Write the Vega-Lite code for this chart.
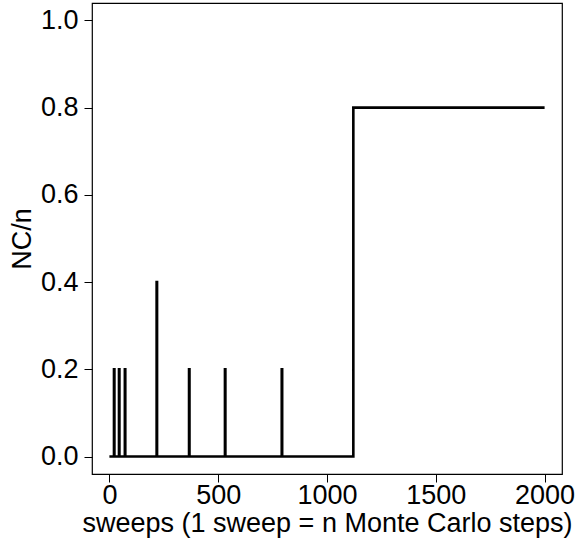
{
  "$schema": "https://vega.github.io/schema/vega-lite/v6.json",
  "width": 470,
  "height": 471,
  "autosize": {"type": "none"},
  "padding": {"left": 92, "top": 3, "right": 13, "bottom": 69},
  "background": "white",
  "config": {
    "view": {"stroke": "black", "strokeWidth": 1.2},
    "font": "Liberation Sans",
    "axis": {
      "domain": false,
      "grid": false,
      "tickColor": "black",
      "tickSize": 8,
      "tickWidth": 1,
      "labelFont": "Liberation Sans",
      "labelFontSize": 27,
      "labelColor": "black",
      "titleFont": "Liberation Sans",
      "titleFontSize": 27,
      "titleFontWeight": "normal",
      "titleColor": "black"
    }
  },
  "data": {
    "values": [
      {"x": 0, "y": 0},
      {"x": 21, "y": 0.2},
      {"x": 23, "y": 0},
      {"x": 44, "y": 0.2},
      {"x": 46, "y": 0},
      {"x": 71, "y": 0.2},
      {"x": 73, "y": 0},
      {"x": 217, "y": 0.4},
      {"x": 219, "y": 0},
      {"x": 366, "y": 0.2},
      {"x": 368, "y": 0},
      {"x": 531, "y": 0.2},
      {"x": 533, "y": 0},
      {"x": 792, "y": 0.2},
      {"x": 794, "y": 0},
      {"x": 1121, "y": 0.8},
      {"x": 2000, "y": 0.8}
    ]
  },
  "mark": {"type": "line", "interpolate": "step-after", "color": "black", "strokeWidth": 2.6, "clip": true},
  "encoding": {
    "x": {
      "field": "x",
      "type": "quantitative",
      "scale": {"domain": [-80, 2080], "nice": false, "zero": false},
      "axis": {"values": [0, 500, 1000, 1500, 2000], "format": "d", "labelPadding": 0, "title": "sweeps (1 sweep = n Monte Carlo steps)", "titlePadding": 2, "labelFlush": false}
    },
    "y": {
      "field": "y",
      "type": "quantitative",
      "scale": {"domain": [-0.04, 1.04], "nice": false, "zero": false},
      "axis": {"values": [0, 0.2, 0.4, 0.6, 0.8, 1.0], "format": ".1f", "labelPadding": 6, "title": "NC/n", "titlePadding": 4, "labelFlush": false}
    }
  }
}
